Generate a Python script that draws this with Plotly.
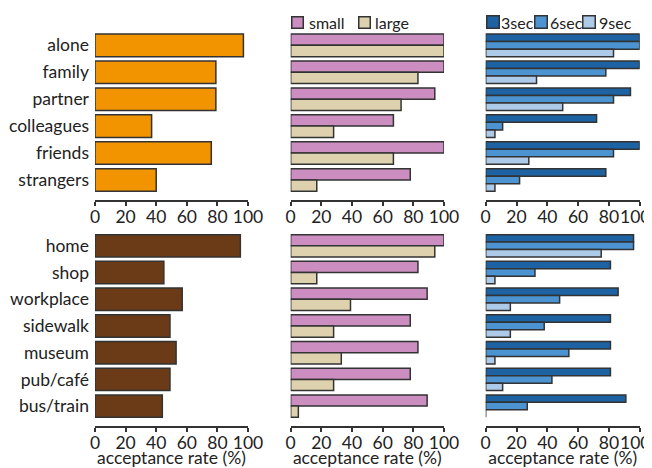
import plotly.graph_objects as go

# ---------------- data ----------------
social = ["alone", "family", "partner", "colleagues", "friends", "strangers"]
places = ["home", "shop", "workplace", "sidewalk", "museum", "pub/café", "bus/train"]

social_overall = [97, 79, 79, 37, 76, 40]
place_overall = [95, 45, 57, 49, 53, 49, 44]

size_names = ["small", "large"]
social_small = [100, 100, 94, 67, 100, 78]
social_large = [100, 83, 72, 28, 67, 17]
place_small = [100, 83, 89, 78, 83, 78, 89]
place_large = [94, 17, 39, 28, 33, 28, 5]

time_names = ["3sec", "6sec", "9sec"]
social_3 = [100, 100, 94, 72, 100, 78]
social_6 = [100, 78, 83, 11, 83, 22]
social_9 = [83, 33, 50, 6, 28, 6]
place_3 = [96, 81, 86, 81, 81, 81, 91]
place_6 = [96, 32, 48, 38, 54, 43, 27]
place_9 = [75, 6, 16, 16, 6, 11, 0]

x_ticks = [0, 20, 40, 60, 80, 100]
x_labels = ["0", "20", "40", "60", "80", "100"]
axis_title = "acceptance rate (%)"

# ---------------- style ----------------
OFF = 8                      # page body margin
W, H = 652 - OFF, 468 - OFF  # figure size that fits the window
FONT = "Lato"
FS = 17.5
LFS = 16
TXT = "#222222"
EDGE = "#333333"
c_orange = "#F29400"
c_brown = "#6B3A17"
size_colors = ["#CC8EC0", "#DDD1AE"]
time_colors = ["#1D62A3", "#4B93D1", "#ADCBE9"]
PAD = "\u00a0\u00a0"  # keeps the right-edge label inside the page


def px_x(v):
    return (v - OFF) / W


def px_y(v):
    return 1 - (v - OFF) / H


col_px = [(95, 248), (290.7, 444), (485.7, 639.7)]
row_px = [(31.9, 200), (232.5, 426)]
extra = 0.245

panels = [
    [(social, [("overall", social_overall, c_orange)]),
     (social, list(zip(size_names, [social_small, social_large], size_colors))),
     (social, list(zip(time_names, [social_3, social_6, social_9], time_colors)))],
    [(places, [("overall", place_overall, c_brown)]),
     (places, list(zip(size_names, [place_small, place_large], size_colors))),
     (places, list(zip(time_names, [place_3, place_6, place_9], time_colors)))],
]

fig = go.Figure()
layout = {}
for r in range(2):
    for c in range(3):
        n = r * 3 + c + 1
        cats, series = panels[r][c]
        xs = "x" if n == 1 else f"x{n}"
        ys = "y" if n == 1 else f"y{n}"
        for name, vals, col in series:
            fig.add_trace(go.Bar(
                x=vals, y=cats, name=name, orientation="h",
                xaxis=xs, yaxis=ys, showlegend=False,
                marker=dict(color=col, line=dict(color=EDGE, width=1.5)),
            ))
        labels = list(x_labels)
        if c == 2:
            labels[-1] = labels[-1] + PAD
        xd = [px_x(col_px[c][0]), px_x(col_px[c][1])]
        yd = [px_y(row_px[r][1]), px_y(row_px[r][0])]
        xa = dict(domain=xd, range=[0, 100], anchor=ys, showline=True,
                  linecolor=EDGE, linewidth=1.5, ticks="outside", ticklen=4,
                  tickwidth=1.5, tickcolor=EDGE, tickvals=x_ticks,
                  ticktext=labels, tickangle=0,
                  showgrid=False, zeroline=False, automargin=False,
                  ticklabelstandoff=-4, ticklabeloverflow="allow",
                  tickfont=dict(size=FS, color=TXT, family=FONT))
        if r == 1:
            xa["title"] = dict(text=axis_title, standoff=0,
                               font=dict(size=FS, color=TXT, family=FONT))
        ya = dict(domain=yd, anchor=xs, type="category",
                  categoryorder="array", categoryarray=cats,
                  range=[len(cats) - 0.5 + extra, -0.5],
                  showticklabels=(c == 0), ticks="", showgrid=False,
                  showline=False, zeroline=False, ticklabelstandoff=5,
                  automargin=False,
                  tickfont=dict(size=FS, color=TXT, family=FONT))
        layout["xaxis" if n == 1 else f"xaxis{n}"] = xa
        layout["yaxis" if n == 1 else f"yaxis{n}"] = ya
        # overlay axis: inward tick halves so ticks cross the axis line
        layout[f"xaxis{n + 6}"] = dict(
            overlaying=xs, anchor=ys, range=[0, 100], ticks="inside",
            ticklen=4, tickwidth=1.5, tickcolor=EDGE, tickvals=x_ticks,
            showticklabels=False, showgrid=False, zeroline=False,
            showline=False, automargin=False)

# legend keys as annotations
annotations = []
legend_specs = [
    (size_names, size_colors, [291, 358], [307, 373], 10),
    (time_names, time_colors, [486, 534, 582], [499, 548, 597], 11),
]
for names, cols, keyx, textx, ks in legend_specs:
    for name, col, kx, tx in zip(names, cols, keyx, textx):
        annotations.append(dict(
            x=px_x(kx), y=px_y(22), xref="paper", yref="paper",
            xanchor="left", yanchor="middle", text=" ", showarrow=False,
            width=ks, height=ks, bgcolor=col, bordercolor=EDGE,
            borderwidth=1.5, borderpad=0, font=dict(size=2)))
        annotations.append(dict(
            x=px_x(tx), y=px_y(22), xref="paper", yref="paper",
            xanchor="left", yanchor="middle", text=name, showarrow=False,
            font=dict(size=LFS, color=TXT, family=FONT)))

fig.update_layout(
    **layout,
    annotations=annotations,
    barmode="group", bargap=0.16, bargroupgap=0,
    width=W, height=H, margin=dict(l=0, r=0, t=0, b=0),
    paper_bgcolor="white", plot_bgcolor="white",
    font=dict(family=FONT, color=TXT, size=FS),
    showlegend=False,
)

fig.write_html("out.html")
